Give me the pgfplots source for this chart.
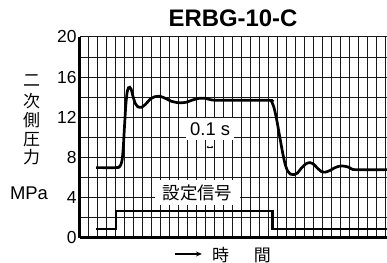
\documentclass[border=0pt]{standalone}
\usepackage{pgfplots}
\pgfplotsset{compat=1.18}
\usetikzlibrary{arrows.meta}
\usepackage{fontspec}
\setmainfont{Liberation Sans}
\newfontfamily\cjk{Noto Sans CJK JP}
\begin{document}
\begin{tikzpicture}
\begin{axis}[
  scale only axis, width=307bp, height=201bp,
  xmin=0, xmax=34.19, ymin=0, ymax=20,
  axis lines*=left,
  axis line style={line width=3bp, -},
  xtick={0,...,34}, xticklabels={},
  ytick={0,4,...,20}, minor ytick={2,6,...,18},
  grid=both, grid style={black!90, line width=1bp},
  minor grid style={black!90, line width=1bp},
  major tick length=0pt, minor tick length=0pt,
  tick label style={font=\fontsize{17.5}{17.5}\selectfont},
  /pgf/number format/assume math mode=true,
  clip=false,
]
\addplot[black, line width=2.7bp, smooth, tension=0.35] coordinates {
(1.8,7.0) (4.0,7.0) (4.35,7.05) (4.55,7.3) (4.7,7.8) (4.82,9) (4.95,11) (5.1,13.2) (5.25,14.5) (5.4,14.95) (5.55,15.0) (5.7,14.8) (5.9,14.1) (6.15,13.4) (6.45,13.05) (6.85,13.0) (7.3,13.3) (7.8,13.8) (8.3,14.05) (8.9,14.1) (9.5,13.9) (10.2,13.6) (11.0,13.45) (11.8,13.5) (12.6,13.75) (13.3,13.9) (13.9,13.9) (14.6,13.75) (15.4,13.7) (21.1,13.7) (21.35,13.55) (21.6,13.0) (21.9,11.8) (22.2,10.3) (22.5,8.8) (22.8,7.5) (23.1,6.7) (23.45,6.35) (23.8,6.3) (24.2,6.45) (24.7,7.0) (25.2,7.4) (25.6,7.5) (26.0,7.35) (26.5,6.9) (26.9,6.6) (27.3,6.55) (27.8,6.7) (28.4,7.0) (28.9,7.15) (29.4,7.15) (29.9,7.05) (30.3,6.85) (30.7,6.8) (34.19,6.8)
};
\addplot[black, line width=2.7bp] coordinates {
(1.8,0.9) (4.0,0.9) (4.0,2.7) (21.4,2.7) (21.4,0.9) (34.19,0.9)
};
\node[fill=white, inner sep=0pt, minimum width=48bp, minimum height=22bp, font=\fontsize{18.5}{18.5}\selectfont] at (axis cs:14.5,10.85) {0.1 s};
\draw[line width=0.6bp, {Stealth[length=2bp,width=2.5bp]}-{Stealth[length=2bp,width=2.5bp]}] (axis cs:14.1,9.05) -- (axis cs:14.85,9.05);
\node[fill=white, inner sep=0pt, minimum width=85bp, minimum height=25bp, font=\cjk\fontsize{17.5}{17.5}\selectfont] at (axis cs:13.08,4.53) {設定信号};
\node[font=\bfseries\fontsize{24}{24}\selectfont] at (axis cs:17.04,21.89) {ERBG-10-C};
\node[font=\cjk\fontsize{17}{17}\selectfont] at (axis cs:-5.38,15.62) {二};
\node[font=\cjk\fontsize{17}{17}\selectfont] at (axis cs:-5.38,13.63) {次};
\node[font=\cjk\fontsize{17}{17}\selectfont] at (axis cs:-5.38,11.74) {側};
\node[font=\cjk\fontsize{17}{17}\selectfont] at (axis cs:-5.38,9.75) {圧};
\node[font=\cjk\fontsize{17}{17}\selectfont] at (axis cs:-5.38,8.06) {力};
\node[font=\fontsize{18.5}{18.5}\selectfont] at (axis cs:-5.68,4.48) {MPa};
\draw[line width=1.3bp, -{Stealth[length=6bp,width=5bp]}] (axis cs:10.58,-1.59) -- (axis cs:13.58,-1.59);
\node[font=\cjk\fontsize{17}{17}\selectfont] at (axis cs:15.65,-1.69) {時};
\node[font=\cjk\fontsize{17}{17}\selectfont] at (axis cs:20.32,-1.69) {間};
\coordinate (BL) at (axis cs:-8.909,-2.488);
\coordinate (TR) at (axis cs:34.19,23.68);
\end{axis}
\pgfresetboundingbox
\path[use as bounding box] (BL) rectangle (TR);
\end{tikzpicture}
\end{document}
